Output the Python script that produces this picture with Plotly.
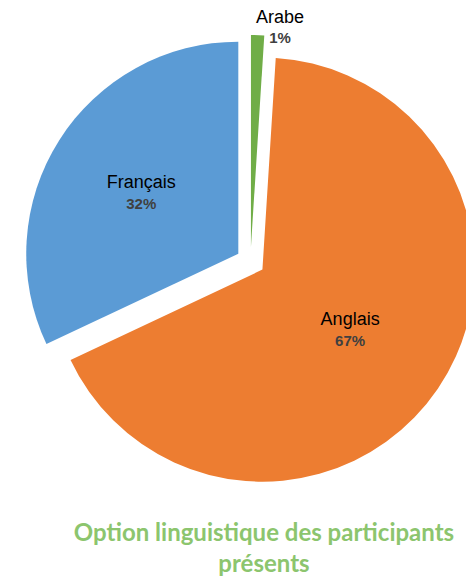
import plotly.graph_objects as go

# Data
categories = ["Arabe", "Anglais", "Français"]
values = [1, 67, 32]
colors = ["#70AD47", "#ED7D31", "#5B9BD5"]
title_text = "Option linguistique des participants<br>présents"

W, H = 480, 576
ML, MR, MT, MB = 24, 3, 35, 88
PW, PH = W - ML - MR, H - MT - MB

total = sum(values)
pct = [f"{round(100 * v / total)}%" for v in values]

LABEL_TMPL = ("<span style='font-size:18px'>{lab}</span><br>"
              "<span style='font-size:15px;color:#404040'><b>{pc}</b></span>")

fig = go.Figure(
    go.Pie(
        labels=categories,
        values=values,
        sort=False,
        direction="clockwise",
        rotation=0,
        pull=[0.068, 0.068, 0.068],
        automargin=False,
        marker=dict(colors=colors, line=dict(width=0)),
        texttemplate=LABEL_TMPL.format(lab="%{label}", pc="%{percent}"),
        textposition=["none", "inside", "inside"],
        insidetextorientation="horizontal",
        textfont=dict(family="Liberation Sans, Arial", size=16, color="#000000"),
        insidetextfont=dict(family="Liberation Sans, Arial", size=16, color="#000000"),
        hoverinfo="label+percent",
        showlegend=False,
    )
)

# Label of the thin "Arabe" slice, placed above it as in the reference
fig.add_annotation(
    text=LABEL_TMPL.format(lab=categories[0], pc=pct[0]),
    xref="paper",
    yref="paper",
    x=(280 - ML) / PW,
    y=(H - MB - 27) / PH,
    xanchor="center",
    yanchor="middle",
    showarrow=False,
    font=dict(family="Liberation Sans, Arial", size=15, color="#000000"),
)

fig.update_layout(
    width=W,
    height=H,
    autosize=False,
    margin=dict(l=ML, r=MR, t=MT, b=MB, pad=0, autoexpand=False),
    paper_bgcolor="white",
    plot_bgcolor="white",
    title=dict(
        text="<b>" + title_text + "</b>",
        font=dict(family="Lato", size=24, color="#8CC56E"),
        x=264 / W,
        xref="container",
        xanchor="center",
        y=1 - 541 / H,
        yref="container",
        yanchor="middle",
        automargin=False,
    ),
)

fig.write_html(
    "out.html",
    config=dict(displayModeBar=False, responsive=False),
    post_script="document.body.style.margin='0';document.body.style.overflow='hidden';",
)
